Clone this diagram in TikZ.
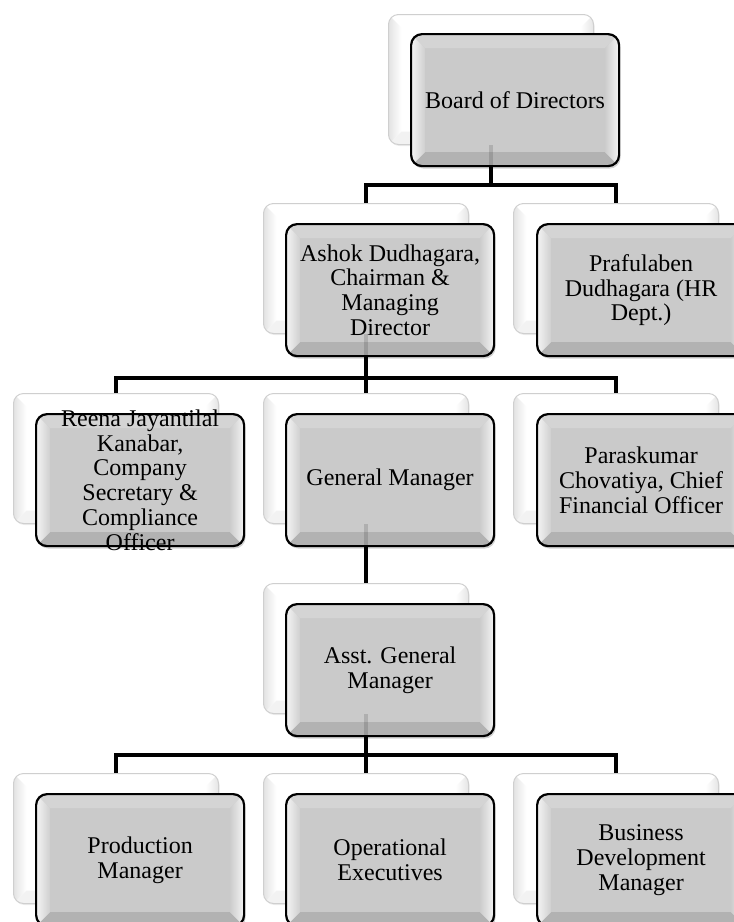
\documentclass[tikz,border=0pt]{standalone}
\usepackage{fontspec}
\setmainfont{Liberation Serif}
\usetikzlibrary{shadows,calc}
\definecolor{boxgray}{HTML}{CACACA}
\definecolor{bevlight}{HTML}{F4F4F4}
\definecolor{bevtop}{HTML}{D4D4D4}
\definecolor{bevbot}{HTML}{B2B2B2}
\definecolor{backedge}{HTML}{CFCFCF}
\tikzset{
  conn/.style={line width=3.6pt, draw=black},
  ghost/.style={line width=3.6pt, draw=black, opacity=0.13},
  txt/.style={font=\fontsize{24}{24.7}\selectfont, align=center, text=black, inner sep=0pt},
  frontbox/.style={draw=black, line width=2.2pt, rounded corners=11pt, fill=boxgray,
    minimum width=208pt, minimum height=132pt, inner sep=0pt, anchor=north west,
    drop shadow={shadow xshift=1.5pt, shadow yshift=-2.5pt, opacity=0.35},
    path picture={
      \path (path picture bounding box.north west) coordinate (pnw)
            (path picture bounding box.north east) coordinate (pne)
            (path picture bounding box.south east) coordinate (pse)
            (path picture bounding box.south west) coordinate (psw);
      \fill[bevtop, sharp corners] (pnw) -- (pne) -- ($(pne)+(-14pt,-14pt)$) -- ($(pnw)+(14pt,-14pt)$) -- cycle;
      \fill[bevbot, sharp corners] (psw) -- (pse) -- ($(pse)+(-14pt,14pt)$) -- ($(psw)+(14pt,14pt)$) -- cycle;
      \shade[left color=bevlight, right color=boxgray!90!white, sharp corners] (pnw) -- ($(pnw)+(14pt,-14pt)$) -- ($(psw)+(14pt,14pt)$) -- (psw) -- cycle;
      \shade[left color=boxgray!95!white, right color=bevlight, sharp corners] (pne) -- ($(pne)+(-14pt,-14pt)$) -- ($(pse)+(-14pt,14pt)$) -- (pse) -- cycle;
    }},
  backbox/.style={draw=backedge, line width=1pt, rounded corners=10pt, fill=white,
    minimum width=205pt, minimum height=130pt, inner sep=0pt, anchor=north west,
    drop shadow={shadow xshift=1pt, shadow yshift=-1.5pt, opacity=0.15},
    path picture={
      \path (path picture bounding box.north west) coordinate (qnw)
            (path picture bounding box.north east) coordinate (qne)
            (path picture bounding box.south east) coordinate (qse)
            (path picture bounding box.south west) coordinate (qsw);
      \shade[left color=gray!22, right color=white, sharp corners] (qnw) -- ($(qnw)+(13pt,-13pt)$) -- ($(qsw)+(13pt,13pt)$) -- (qsw) -- cycle;
      \fill[gray!10, sharp corners] (qsw) -- (qse) -- ($(qse)+(-13pt,13pt)$) -- ($(qsw)+(13pt,13pt)$) -- cycle;
      \shade[left color=white, right color=gray!20, sharp corners] (qne) -- ($(qne)+(-13pt,-13pt)$) -- ($(qse)+(-13pt,13pt)$) -- (qse) -- cycle;
    }},
}
\begin{document}
\begin{tikzpicture}[x=1pt, y=-1pt]
\useasboundingbox (0,0) rectangle (734,922);
% back boxes
\node[backbox] (b1) at (388,14) {};
\node[backbox] (b2) at (263,203) {};
\node[backbox] (b3) at (513,203) {};
\node[backbox] (b4) at (13,393) {};
\node[backbox] (b5) at (263,393) {};
\node[backbox] (b6) at (513,393) {};
\node[backbox] (b7) at (263,583) {};
\node[backbox] (b8) at (13,773) {};
\node[backbox] (b9) at (263,773) {};
\node[backbox] (b10) at (513,773) {};
% front boxes
\node[frontbox] (f1) at (410,33) {};
\node[frontbox] (f2) at (285,223) {};
\node[frontbox] (f3) at (536,223) {};
\node[frontbox] (f4) at (35,413) {};
\node[frontbox] (f5) at (285,413) {};
\node[frontbox] (f6) at (536,413) {};
\node[frontbox] (f7) at (285,603) {};
\node[frontbox] (f8) at (35,793) {};
\node[frontbox] (f9) at (285,793) {};
\node[frontbox] (f10) at (536,793) {};
% connectors
\draw[conn] (b1.center |- f1.south) -- ++(0,18) -| (b2.north);
\draw[conn] (b1.center |- f1.south) -- ++(0,18) -| (b3.north);
\draw[conn] (b2.center |- f2.south) -- ++(0,21) -| (b4.north);
\draw[conn] (b2.center |- f2.south) -- ++(0,21) -| (b5.north);
\draw[conn] (b2.center |- f2.south) -- ++(0,21) -| (b6.north);
\draw[conn] (b5.center |- f5.south) -- (b7.north);
\draw[conn] (b7.center |- f7.south) -- ++(0,18) -| (b8.north);
\draw[conn] (b7.center |- f7.south) -- ++(0,18) -| (b9.north);
\draw[conn] (b7.center |- f7.south) -- ++(0,18) -| (b10.north);
% connectors seen through the front boxes
\draw[ghost] (b1.south) -- (b1.center |- f1.south);
\draw[ghost] (b2.south) -- (b2.center |- f2.south);
\draw[ghost] (b5.south) -- (b5.center |- f5.south);
\draw[ghost] (b7.south) -- (b7.center |- f7.south);
% texts
\node[txt] (t1) at (f1.center) {Board of Directors};
\node[txt] (t2) at (f2.center) {Ashok Dudhagara,\\Chairman \&\\Managing\\Director};
\node[txt] (t3) at (f3.center) {Prafulaben\\Dudhagara (HR\\Dept.)};
\node[txt] (t4) at (f4.center) {Reena Jayantilal\\Kanabar,\\Company\\Secretary \&\\Compliance\\Officer};
\node[txt] (t5) at (f5.center) {General Manager};
\node[txt] (t6) at (f6.center) {Paraskumar\\Chovatiya, Chief\\Financial Officer};
\node[txt] (t7) at (f7.center) {Asst. General\\Manager};
\node[txt] (t8) at (f8.center) {Production\\Manager};
\node[txt] (t9) at (f9.center) {Operational\\Executives};
\node[txt] (t10) at (f10.center) {Business\\Development\\Manager};
\end{tikzpicture}
\end{document}
